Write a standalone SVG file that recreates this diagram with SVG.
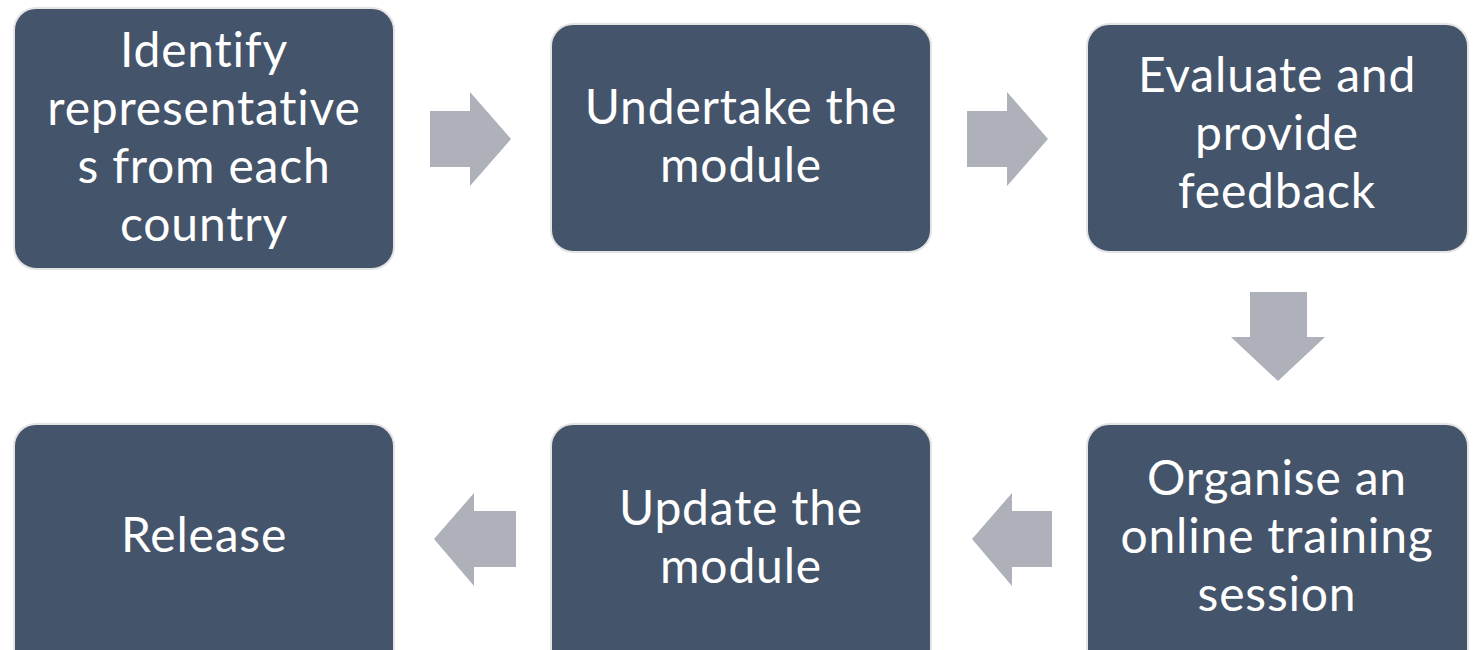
<svg xmlns="http://www.w3.org/2000/svg" width="1473" height="650" viewBox="0 0 1473 650">
<style>
.box{fill:#44546A;stroke:#E4E4E4;stroke-width:2}
.arr{fill:#AEB1B9}
.t{font-family:Lato,"Liberation Sans",sans-serif;font-size:48px;letter-spacing:0.8px;fill:#FFFFFF;text-anchor:middle}
</style>
<rect width="1473" height="650" fill="#FFFFFF"/>
<g id="connectors">
<polygon class="arr" points="430,111 470,111 470,92 511,139 470,186 470,167 430,167"/>
<polygon class="arr" points="967,111 1007,111 1007,92 1048,139 1007,186 1007,167 967,167"/>
<polygon class="arr" points="1250,292 1307,292 1307,337 1325,337 1278,381 1231,337 1250,337"/>
<polygon class="arr" points="1052,511 1012,511 1012,493 972,539 1012,586 1012,567 1052,567"/>
<polygon class="arr" points="516,511 474,511 474,493 434,539 474,586 474,567 516,567"/>
</g>
<g id="n1">
<rect class="box" x="14" y="8" width="380" height="261" rx="22"/>
<text class="t" x="204" y="67">Identify</text>
<text class="t" x="204" y="125">representative</text>
<text class="t" x="204" y="183">s from each</text>
<text class="t" x="204" y="241">country</text>
</g>
<g id="n2">
<rect class="box" x="551" y="24" width="380" height="228" rx="22"/>
<text class="t" x="741" y="124">Undertake the</text>
<text class="t" x="741" y="182">module</text>
</g>
<g id="n3">
<rect class="box" x="1087" y="24" width="381" height="228" rx="22"/>
<text class="t" x="1277" y="92">Evaluate and</text>
<text class="t" x="1277" y="150">provide</text>
<text class="t" x="1277" y="208">feedback</text>
</g>
<g id="n4">
<rect class="box" x="1087" y="424" width="381" height="262" rx="22"/>
<text class="t" x="1277" y="495">Organise an</text>
<text class="t" x="1277" y="553">online training</text>
<text class="t" x="1277" y="611">session</text>
</g>
<g id="n5">
<rect class="box" x="551" y="424" width="380" height="262" rx="22"/>
<text class="t" x="741" y="525">Update the</text>
<text class="t" x="741" y="583">module</text>
</g>
<g id="n6">
<rect class="box" x="14" y="424" width="380" height="262" rx="22"/>
<text class="t" x="204" y="552">Release</text>
</g>
</svg>
